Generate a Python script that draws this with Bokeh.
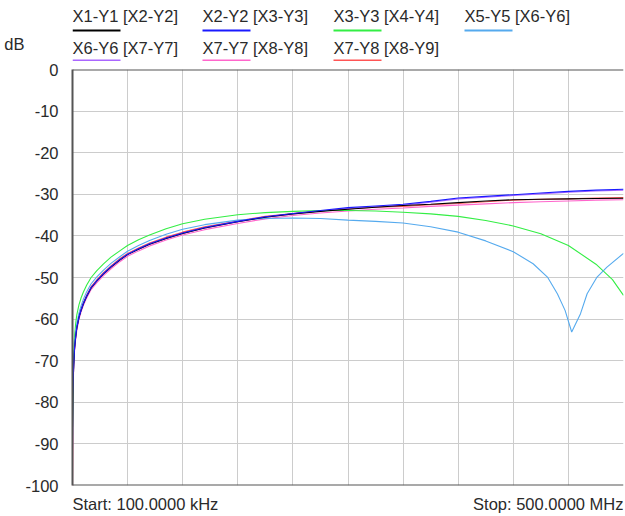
from bokeh.plotting import figure
from bokeh.models import Span, FixedTicker, Range1d
from bokeh.layouts import column
from bokeh.core.properties import value
from bokeh.embed import file_html
from bokeh.resources import INLINE

# ---------------- data (frequency in MHz, level in dB) ----------------
freq = [0.1, 0.6, 1.2, 2, 3, 4, 6, 8, 10, 13, 17, 22, 28, 35, 43, 50, 60, 70, 85,
        100, 120, 150, 175, 200, 225, 250, 275, 300, 325, 350, 375, 400, 425, 450, 475, 500]

s_x1y1 = [-86, -76, -71, -67, -64.3, -62.2, -59.6, -57.8, -56.3, -54.5, -52.5, -50.9, -49.2, -47.5, -45.8, -44.5, -43.2, -42.0, -40.6,
          -39.4, -38.1, -36.6, -35.5, -34.7, -34.1, -33.6, -33.1, -32.7, -32.4, -32.0, -31.6, -31.3, -31.2, -31.1, -31.0, -30.95]
s_x2y2 = [-78, -75, -70.5, -66.8, -64.1, -62.0, -59.5, -57.7, -56.2, -54.4, -52.4, -50.8, -49.1, -47.4, -45.7, -44.4, -43.1, -41.9, -40.5,
          -39.3, -38.0, -36.5, -35.4, -34.6, -33.9, -33.2, -32.8, -32.4, -31.7, -30.9, -30.5, -30.1, -29.7, -29.3, -29.0, -28.8]
s_x6y6 = [-91, -76, -71, -67, -64.3, -62.2, -59.6, -57.8, -56.3, -54.5, -52.5, -50.9, -49.2, -47.5, -45.8, -44.5, -43.2, -42.0, -40.6,
          -39.4, -38.1, -36.6, -35.5, -34.7, -34.0, -33.4, -33.0, -32.6, -31.9, -31.1, -30.7, -30.3, -29.9, -29.5, -29.2, -29.0]
s_x7y7 = [-100, -77, -71.5, -67.5, -64.8, -62.7, -60.0, -58.2, -56.7, -54.9, -52.9, -51.3, -49.6, -47.9, -46.2, -44.9, -43.6, -42.4, -41.0,
          -39.8, -38.5, -37.0, -35.9, -35.1, -34.5, -34.0, -33.6, -33.3, -32.9, -32.6, -32.3, -32.0, -31.8, -31.6, -31.4, -31.3]
s_x7y8 = [-100, -75, -70.5, -66.7, -64.0, -61.9, -59.3, -57.5, -56.0, -54.2, -52.2, -50.6, -48.9, -47.2, -45.5, -44.2, -42.9, -41.7, -40.3,
          -39.1, -37.8, -36.4, -35.3, -34.6, -34.0, -33.5, -33.1, -32.9, -32.5, -32.2, -31.8, -31.4, -31.2, -31.1, -30.9, -30.8]

freq_x3y3 = [0.1, 0.6, 1.2, 2, 3, 4, 6, 8, 10, 13, 17, 22, 28, 35, 43, 50, 60, 70, 85,
             100, 120, 150, 175, 200, 225, 250, 275, 300, 325, 350, 375, 400, 425, 450, 475, 490, 500]
s_x3y3 = [-88, -74, -68, -64, -61, -59, -56.5, -54.8, -53.5, -51.8, -50, -48.4, -46.8, -45.1, -43.6, -42.3, -40.9, -39.8, -38.3,
          -37.1, -36.0, -34.9, -34.4, -34.1, -33.9, -33.9, -34.0, -34.3, -34.7, -35.3, -36.3, -37.6, -39.5, -42.3, -46.8, -50.5, -54.3]

freq_x5y5 = [0.1, 0.6, 1.2, 2, 3, 4, 6, 8, 10, 13, 17, 22, 28, 35, 43, 50, 60, 70, 85,
             100, 120, 150, 175, 200, 225, 250, 275, 300, 325, 350, 375, 400, 418, 431, 440, 447, 453, 461, 467, 476, 485, 500]
s_x5y5 = [-91, -78, -70, -66, -63, -61, -58.5, -56.7, -55.2, -53.4, -51.5, -49.9, -48.3, -46.6, -45, -43.7, -42.3, -41.1, -39.6,
          -38.4, -37.3, -36.2, -35.8, -35.7, -35.8, -36.2, -36.5, -36.9, -37.8, -39.1, -41.2, -43.8, -46.7, -49.9, -53.9, -57.9,
          -63.1, -58.7, -53.9, -49.9, -47.5, -44.2]

legend_main = ["X1-Y1", "X2-Y2", "X3-Y3", "X5-Y5", "X6-Y6", "X7-Y7", "X7-Y8"]
legend_ref = ["[X2-Y2]", "[X3-Y3]", "[X4-Y4]", "[X6-Y6]", "[X7-Y7]", "[X8-Y8]", "[X8-Y9]"]
colors = ["#000000", "#1a1aff", "#33ee44", "#55aaee", "#aa66ff", "#ff66cc", "#ff5555"]

y_ticks = [0, -10, -20, -30, -40, -50, -60, -70, -80, -90, -100]
y_tick_labels = ["0", "-10", "-20", "-30", "-40", "-50", "-60", "-70", "-80", "-90", "-100"]
x_start, x_stop = 0.1, 500.0
x_grid = [0.1, 50.09, 100.08, 150.07, 200.06, 250.05, 300.04, 350.03, 400.02, 450.01, 500.0]
unit_text = "dB"
start_text = "Start: 100.0000 kHz"
stop_text = "Stop: 500.0000 MHz"

FONT = "Liberation Sans"
FS = "16.5px"
TXT = "#2a2a2a"
W = 625
TOP_H, BOT_H = 61, 22
MAIN_H = 516 - TOP_H - BOT_H

# ---------------- legend strip (frame aligned with the chart; x in page pixels) ----------------
top = figure(width=W, height=TOP_H, output_backend="svg", toolbar_location=None,
             x_range=Range1d(72, 623), y_range=Range1d(0, TOP_H),
             min_border_left=72, min_border_right=2, min_border_top=0, min_border_bottom=0)
top.xaxis.visible = False
top.grid.visible = False
top.outline_line_color = None
tax = top.yaxis[0]
tax.ticker = FixedTicker(ticks=[17.5])
tax.major_label_overrides = {17.5: unit_text}
tax.major_tick_line_color = None
tax.minor_tick_line_color = None
tax.axis_line_color = None
tax.major_label_standoff = 42
tax.major_label_text_font = FONT
tax.major_label_text_font_size = FS
tax.major_label_text_color = TXT

col_x = [72, 202, 333, 464]
row_mid_y = [45.5, 14]
row_line_y = [31, 1]
leg_x, leg_y, leg_txt, ln_x0, ln_x1, ln_y = [], [], [], [], [], []
for k in range(7):
    r, c = divmod(k, 4)
    leg_x.append(col_x[c])
    leg_y.append(row_mid_y[r])
    leg_txt.append(legend_main[k] + " " + legend_ref[k])
    ln_x0.append(col_x[c])
    ln_x1.append(col_x[c] + 48)
    ln_y.append(row_line_y[r])
top.text(x=leg_x, y=leg_y, text=leg_txt, text_font=value(FONT), text_font_size=FS,
         text_color=TXT, text_baseline="middle", text_align="left")
top.segment(x0=ln_x0, y0=ln_y, x1=ln_x1, y1=ln_y, line_color=colors, line_width=2)

# ---------------- main chart ----------------
p = figure(width=W, height=MAIN_H, output_backend="svg", toolbar_location=None,
           x_range=Range1d(x_start, x_stop), y_range=Range1d(-100, 0),
           min_border_left=72, min_border_right=2, min_border_top=8, min_border_bottom=9)
p.outline_line_color = None
p.xaxis.visible = False
p.xgrid.ticker = FixedTicker(ticks=x_grid)
p.xgrid.grid_line_color = "#cccccc"
p.ygrid.ticker = FixedTicker(ticks=y_ticks)
p.ygrid.grid_line_color = "#cccccc"

ax = p.yaxis[0]
ax.ticker = FixedTicker(ticks=y_ticks)
ax.major_label_overrides = {t: s for t, s in zip(y_ticks, y_tick_labels)}
ax.major_tick_line_color = None
ax.minor_tick_line_color = None
ax.axis_line_color = "#555555"
ax.axis_line_width = 2
ax.major_label_text_font = FONT
ax.major_label_text_font_size = FS
ax.major_label_text_color = TXT
ax.major_label_standoff = 8

p.add_layout(Span(location=0, dimension="width", line_color="#555555", line_width=2))
p.add_layout(Span(location=-100, dimension="width", line_color="#555555", line_width=2))

series = [(freq, s_x1y1), (freq, s_x2y2), (freq_x3y3, s_x3y3), (freq_x5y5, s_x5y5),
          (freq, s_x6y6), (freq, s_x7y7), (freq, s_x7y8)]
order = [6, 5, 4, 2, 3, 0, 1]
for i in order:
    xs, ys = series[i]
    p.line(xs, ys, line_color=colors[i], line_width=1.1)

# ---------------- start / stop strip ----------------
bot = figure(width=W, height=BOT_H, output_backend="svg", toolbar_location=None,
             x_range=p.x_range, y_range=Range1d(0, BOT_H),
             min_border_left=72, min_border_right=2, min_border_top=0, min_border_bottom=0)
bot.axis.visible = False
bot.grid.visible = False
bot.outline_line_color = None
bot.text(x=[x_start], y=[12.5], text=[start_text], text_font=value(FONT), text_font_size=FS,
         text_color=TXT, text_baseline="middle", text_align="left")
bot.text(x=[x_stop], y=[12.5], text=[stop_text], text_font=value(FONT), text_font_size=FS,
         text_color=TXT, text_baseline="middle", text_align="right")

layout = column(top, p, bot, spacing=0)
open("out.html", "w").write(file_html(layout, INLINE))
